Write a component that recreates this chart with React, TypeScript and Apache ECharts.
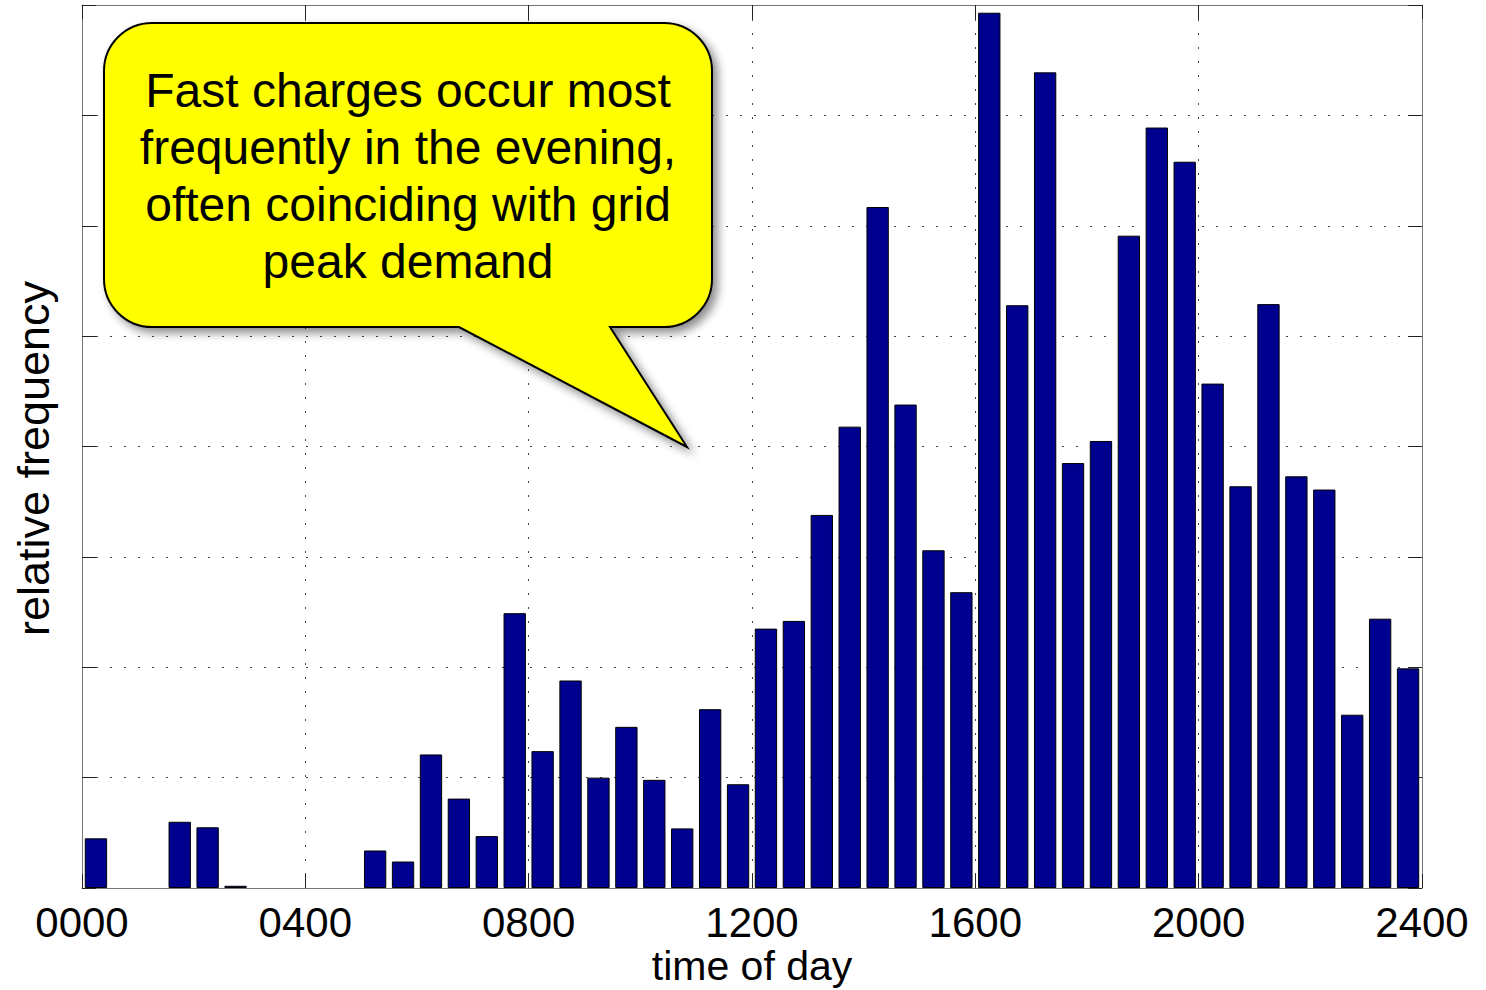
import React, { useEffect, useRef } from "react";
import * as echarts from "echarts";

// ---- data ----
const binHours = 0.5; // width of each histogram bin (hours)
const frequency = [
  0.45, 0, 0, 0.6, 0.55, 0.02, 0, 0, 0, 0,
  0.34, 0.24, 1.21, 0.81, 0.47, 2.49, 1.24, 1.88, 1.0, 1.46,
  0.98, 0.54, 1.62, 0.94, 2.35, 2.42, 3.38, 4.18, 6.17, 4.38,
  3.06, 2.68, 7.93, 5.28, 7.39, 3.85, 4.05, 5.91, 6.89, 6.58,
  4.57, 3.64, 5.29, 3.73, 3.61, 1.57, 2.44, 1.99,
];
const tickLabels = ["0000", "0400", "0800", "1200", "1600", "2000", "2400"];
const xTitle = "time of day";
const yTitle = "relative frequency";
const calloutLines = [
  "Fast charges occur most",
  "frequently in the evening,",
  "often coinciding with grid",
  "peak demand",
];

const FONT = "'Liberation Sans', Arial, Helvetica, sans-serif";

const calloutPath =
  "M 152 23 L 664 23 C 690.5 23 712 44.5 712 71 L 712 279 " +
  "C 712 305.5 690.5 327 664 327 L 610 327 L 687 447 L 459 327 L 152 327 " +
  "C 125.5 327 104 305.5 104 279 L 104 71 C 104 44.5 125.5 23 152 23 Z";

let registered = false;
function ensureShape() {
  if (registered) return;
  echarts.graphic.registerShape("callout", echarts.graphic.extendPath(calloutPath, {}) as any);
  registered = true;
}

export default function App() {
  const ref = useRef<HTMLDivElement>(null);

  useEffect(() => {
    if (!ref.current) return;
    ensureShape();
    const chart = echarts.init(ref.current, undefined, { renderer: "svg" });

    const boxLine = { show: true, onZero: false, lineStyle: { color: "#777", width: 1 } };
    const inTick = { show: true, inside: true, length: 14, lineStyle: { color: "#222", width: 1 } };
    const dotted = { show: true, lineStyle: { color: "#444", width: 1, type: [2, 12] as any } };
    const hoursMax = (tickLabels.length - 1) * 4;

    const option: any = {
      animation: false,
      backgroundColor: "#ffffff",
      textStyle: { fontFamily: FONT },
      grid: {
        left: 82,
        right: 64,
        top: 5,
        bottom: 102,
        containLabel: false,
        outerBoundsMode: "none",
      },
      xAxis: [
        {
          type: "value",
          min: 0,
          max: hoursMax,
          interval: 4,
          position: "bottom",
          axisLine: boxLine,
          axisTick: inTick,
          axisLabel: {
            show: true,
            margin: 13,
            fontSize: 42,
            color: "#000",
            fontFamily: FONT,
            formatter: (v: number) => tickLabels[Math.round(v / 4)] ?? "",
          },
          splitLine: dotted,
          name: xTitle,
          nameLocation: "middle",
          nameGap: 57,
          nameMoveOverlap: false,
          nameTextStyle: { fontSize: 41, color: "#000", fontFamily: FONT },
        },
        {
          type: "value",
          min: 0,
          max: hoursMax,
          interval: 4,
          position: "top",
          axisLine: boxLine,
          axisTick: inTick,
          axisLabel: { show: false },
          splitLine: { show: false },
        },
      ],
      yAxis: [
        {
          type: "value",
          min: 0,
          max: 8,
          interval: 1,
          position: "left",
          axisLine: boxLine,
          axisTick: inTick,
          axisLabel: { show: false },
          splitLine: dotted,
          name: yTitle,
          nameLocation: "middle",
          nameGap: 26,
          nameTextStyle: { fontSize: 45, color: "#000", fontFamily: FONT, padding: [0, 24, 0, 0] },
        },
        {
          type: "value",
          min: 0,
          max: 8,
          interval: 1,
          position: "right",
          axisLine: boxLine,
          axisTick: inTick,
          axisLabel: { show: false },
          splitLine: { show: false },
        },
      ],
      series: [
        {
          type: "bar",
          xAxisIndex: 0,
          yAxisIndex: 0,
          barWidth: "80%",
          silent: true,
          itemStyle: { color: "#00008F", borderColor: "#000", borderWidth: 1 },
          data: frequency.map((v, i) => [i * binHours + binHours / 2, v === 0 ? "-" : v]),
        },
      ],
      graphic: [
        {
          type: "callout",
          x: 0,
          y: 0,
          z: 100,
          silent: true,
          style: {
            fill: "#ffff00",
            stroke: "#000",
            lineWidth: 2,
            shadowBlur: 10,
            shadowOffsetX: 5,
            shadowOffsetY: 5,
            shadowColor: "rgba(0,0,0,0.45)",
          },
        },
        {
          type: "text",
          x: 408,
          y: 176,
          z: 101,
          silent: true,
          style: {
            text: calloutLines.join("\n"),
            fontSize: 48,
            fontFamily: FONT,
            fill: "#000",
            align: "center",
            verticalAlign: "middle",
            lineHeight: 57,
          },
        },
      ],
    };

    chart.setOption(option);
    return () => chart.dispose();
  }, []);

  return (
    <div
      ref={ref}
      style={{ position: "absolute", left: 0, top: 0, width: 1486, height: 990, background: "#fff" }}
    />
  );
}
